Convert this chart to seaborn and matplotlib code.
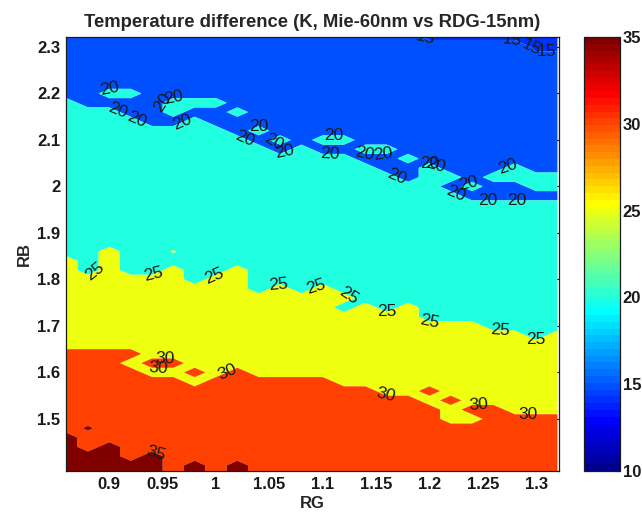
import numpy as np
import matplotlib
matplotlib.use("Agg")
import matplotlib.pyplot as plt
from matplotlib.colors import ListedColormap, Normalize
from matplotlib.cm import ScalarMappable
import seaborn as sns

# Grid axes
rg = [0.86, 0.88, 0.90, 0.92, 0.94, 0.96, 0.98, 1.00, 1.02, 1.04, 1.06, 1.08,
      1.10, 1.12, 1.14, 1.16, 1.18, 1.20, 1.22, 1.24, 1.26, 1.28, 1.30, 1.32]
rb = [2.32, 2.30, 2.28, 2.26, 2.24, 2.22, 2.20, 2.18, 2.16, 2.14, 2.12, 2.10,
      2.08, 2.06, 2.04, 2.02, 2.00, 1.98, 1.96, 1.94, 1.92, 1.90, 1.88, 1.86,
      1.84, 1.82, 1.80, 1.78, 1.76, 1.74, 1.72, 1.70, 1.68, 1.66, 1.64, 1.62,
      1.60, 1.58, 1.56, 1.54, 1.52, 1.50, 1.48, 1.46, 1.44, 1.42, 1.40, 1.38]

# Temperature difference (K); one row per RB value (top to bottom), one column per RG value
temp_diff = [
    [18, 18, 18, 18, 18, 18, 18, 18, 18, 18, 18, 18, 18, 18, 18, 18, 18, 14, 14, 14, 14, 14, 14, 14],
    [18, 18, 18, 18, 18, 18, 18, 18, 18, 18, 18, 18, 18, 18, 18, 18, 18, 18, 18, 18, 18, 18, 14, 14],
    [18, 18, 18, 18, 18, 18, 18, 18, 18, 18, 18, 18, 18, 18, 18, 18, 18, 18, 18, 18, 18, 18, 16, 16],
    [18, 18, 18, 18, 18, 18, 18, 18, 18, 18, 18, 18, 18, 18, 18, 18, 18, 18, 18, 18, 18, 18, 18, 18],
    [18, 18, 18, 18, 18, 18, 18, 18, 18, 18, 18, 18, 18, 18, 18, 18, 18, 18, 18, 18, 18, 18, 18, 18],
    [18, 18, 18, 18, 18, 18, 18, 18, 18, 18, 18, 18, 18, 18, 18, 18, 18, 18, 18, 18, 18, 18, 18, 18],
    [18, 18, 22, 22, 18, 18, 18, 18, 18, 18, 18, 18, 18, 18, 18, 18, 18, 18, 18, 18, 18, 18, 18, 18],
    [22, 18, 18, 18, 18, 22, 22, 22, 18, 18, 18, 18, 18, 18, 18, 18, 18, 18, 18, 18, 18, 18, 18, 18],
    [22, 22, 22, 18, 18, 22, 18, 18, 22, 18, 18, 18, 18, 18, 18, 18, 18, 18, 18, 18, 18, 18, 18, 18],
    [22, 22, 22, 22, 18, 18, 22, 18, 18, 18, 18, 18, 18, 18, 18, 18, 18, 18, 18, 18, 18, 18, 18, 18],
    [22, 22, 22, 22, 22, 22, 22, 22, 18, 22, 18, 18, 18, 18, 18, 18, 18, 18, 18, 18, 18, 18, 18, 18],
    [22, 22, 22, 22, 22, 22, 22, 22, 22, 18, 22, 18, 22, 22, 18, 18, 18, 18, 18, 18, 18, 18, 18, 18],
    [22, 22, 22, 22, 22, 22, 22, 22, 22, 22, 18, 22, 18, 18, 22, 22, 18, 18, 18, 18, 18, 18, 18, 18],
    [22, 22, 22, 22, 22, 22, 22, 22, 22, 22, 22, 22, 22, 22, 18, 18, 22, 18, 18, 18, 18, 18, 18, 18],
    [22, 22, 22, 22, 22, 22, 22, 22, 22, 22, 22, 22, 22, 22, 22, 18, 18, 22, 18, 18, 18, 22, 18, 18],
    [22, 22, 22, 22, 22, 22, 22, 22, 22, 22, 22, 22, 22, 22, 22, 22, 18, 22, 22, 18, 22, 22, 22, 22],
    [22, 22, 22, 22, 22, 22, 22, 22, 22, 22, 22, 22, 22, 22, 22, 22, 22, 22, 18, 22, 18, 18, 22, 22],
    [22, 22, 22, 22, 22, 22, 22, 22, 22, 22, 22, 22, 22, 22, 22, 22, 22, 22, 22, 18, 18, 18, 18, 18],
    [22, 22, 22, 22, 22, 22, 22, 22, 22, 22, 22, 22, 22, 22, 22, 22, 22, 22, 22, 22, 22, 22, 22, 22],
    [22, 22, 22, 22, 22, 22, 22, 22, 22, 22, 22, 22, 22, 22, 22, 22, 22, 22, 22, 22, 22, 22, 22, 22],
    [22, 22, 22, 22, 22, 22, 22, 22, 22, 22, 22, 22, 22, 22, 22, 22, 22, 22, 22, 22, 22, 22, 22, 22],
    [22, 22, 22, 22, 22, 22, 22, 22, 22, 22, 22, 22, 22, 22, 22, 22, 22, 22, 22, 22, 22, 22, 22, 22],
    [22, 22, 22, 22, 22, 22, 22, 22, 22, 22, 22, 22, 22, 22, 22, 22, 22, 22, 22, 22, 22, 22, 22, 22],
    [22, 22, 28, 22, 22, 25.5, 22, 22, 22, 22, 22, 22, 22, 22, 22, 22, 22, 22, 22, 22, 22, 22, 22, 22],
    [28, 22, 28, 22, 22, 22, 22, 22, 22, 22, 22, 22, 22, 22, 22, 22, 22, 22, 22, 22, 22, 22, 22, 22],
    [28, 22, 28, 22, 22, 28, 22, 22, 28, 22, 22, 22, 22, 22, 22, 22, 22, 22, 22, 22, 22, 22, 22, 22],
    [28, 28, 28, 28, 28, 28, 22, 28, 28, 22, 22, 22, 22, 22, 22, 22, 22, 22, 22, 22, 22, 22, 22, 22],
    [28, 28, 28, 28, 28, 28, 28, 28, 28, 22, 28, 22, 28, 22, 22, 22, 22, 22, 22, 22, 22, 22, 22, 22],
    [28, 28, 28, 28, 28, 28, 28, 28, 28, 28, 28, 28, 28, 28, 22, 22, 22, 22, 22, 22, 22, 22, 22, 22],
    [28, 28, 28, 28, 28, 28, 28, 28, 28, 28, 28, 28, 28, 22, 28, 22, 28, 22, 22, 22, 22, 22, 22, 22],
    [28, 28, 28, 28, 28, 28, 28, 28, 28, 28, 28, 28, 28, 28, 28, 28, 28, 22, 22, 22, 22, 22, 22, 22],
    [28, 28, 28, 28, 28, 28, 28, 28, 28, 28, 28, 28, 28, 28, 28, 28, 28, 28, 28, 28, 22, 22, 22, 22],
    [28, 28, 28, 28, 28, 28, 28, 28, 28, 28, 28, 28, 28, 28, 28, 28, 28, 28, 28, 28, 28, 28, 22, 28],
    [28, 28, 28, 28, 28, 28, 28, 28, 28, 28, 28, 28, 28, 28, 28, 28, 28, 28, 28, 28, 28, 28, 28, 28],
    [32, 32, 32, 32, 28, 28, 28, 28, 28, 28, 28, 28, 28, 28, 28, 28, 28, 28, 28, 28, 28, 28, 28, 28],
    [32, 32, 32, 28, 32, 32, 28, 28, 28, 28, 28, 28, 28, 28, 28, 28, 28, 28, 28, 28, 28, 28, 28, 28],
    [32, 32, 32, 32, 28, 28, 32, 28, 32, 28, 28, 28, 28, 28, 28, 28, 28, 28, 28, 28, 28, 28, 28, 28],
    [32, 32, 32, 32, 32, 32, 28, 32, 32, 32, 32, 32, 32, 28, 28, 28, 28, 28, 28, 28, 28, 28, 28, 28],
    [32, 32, 32, 32, 32, 32, 32, 32, 32, 32, 32, 32, 32, 32, 32, 28, 28, 32, 28, 28, 28, 28, 28, 28],
    [32, 32, 32, 32, 32, 32, 32, 32, 32, 32, 32, 32, 32, 32, 32, 32, 32, 28, 32, 28, 28, 28, 28, 28],
    [32, 32, 32, 32, 32, 32, 32, 32, 32, 32, 32, 32, 32, 32, 32, 32, 32, 32, 28, 32, 32, 28, 28, 28],
    [32, 32, 32, 32, 32, 32, 32, 32, 32, 32, 32, 32, 32, 32, 32, 32, 32, 32, 28, 28, 32, 32, 32, 32],
    [32, 36, 32, 32, 32, 32, 32, 32, 32, 32, 32, 32, 32, 32, 32, 32, 32, 32, 32, 32, 32, 32, 32, 32],
    [38, 32, 32, 32, 32, 32, 32, 32, 32, 32, 32, 32, 32, 32, 32, 32, 32, 32, 32, 32, 32, 32, 32, 32],
    [38, 32, 38, 32, 32, 32, 32, 32, 32, 32, 32, 32, 32, 32, 32, 32, 32, 32, 32, 32, 32, 32, 32, 32],
    [38, 38, 38, 32, 38, 32, 32, 32, 32, 32, 32, 32, 32, 32, 32, 32, 32, 32, 32, 32, 32, 32, 32, 32],
    [38, 38, 38, 38, 38, 32, 38, 32, 38, 32, 32, 32, 32, 32, 32, 32, 32, 32, 32, 32, 32, 32, 32, 32],
    [38, 38, 38, 38, 38, 32, 38, 32, 38, 32, 32, 32, 32, 32, 32, 32, 32, 32, 32, 32, 32, 32, 32, 32],
]

contour_levels = [15, 20, 25, 30, 35]
cbar_ticks = [10, 15, 20, 25, 30, 35]
x_ticks = [0.9, 0.95, 1.0, 1.05, 1.1, 1.15, 1.2, 1.25, 1.3]
x_tick_labels = ["0.9", "0.95", "1", "1.05", "1.1", "1.15", "1.2", "1.25", "1.3"]
y_ticks = [1.5, 1.6, 1.7, 1.8, 1.9, 2.0, 2.1, 2.2, 2.3]
y_tick_labels = ["1.5", "1.6", "1.7", "1.8", "1.9", "2", "2.1", "2.2", "2.3"]

# Points near which the contour value labels are placed (RG, RB)
label_spots = [
    (0.900, 2.235), (0.960, 2.222), (0.907, 2.160), (0.926, 2.143), (0.949, 2.186),
    (0.969, 2.132), (1.042, 2.147), (1.027, 2.104), (1.053, 2.089), (1.066, 2.063),
    (1.110, 2.106), (1.107, 2.063), (1.138, 2.063), (1.157, 2.074), (1.172, 2.035),
    (1.202, 2.089), (1.210, 2.068), (1.235, 2.014), (1.226, 1.992), (1.255, 1.986),
    (1.274, 2.040), (1.282, 1.967),
    (0.887, 1.816), (0.943, 1.805), (1.002, 1.788), (1.057, 1.795), (1.095, 1.777),
    (1.126, 1.773), (1.160, 1.713), (1.200, 1.685), (1.266, 1.681), (1.297, 1.642),
    (0.952, 1.628), (0.946, 1.608), (1.010, 1.605), (1.156, 1.537), (1.246, 1.522),
    (1.292, 1.515),
    (0.948, 1.450),
    (1.194, 2.309), (1.277, 2.304), (1.301, 2.315), (1.310, 2.268),
]


def matlab_jet(m=64):
    n = int(np.ceil(m / 4))
    u = np.concatenate([np.arange(1, n + 1) / n, np.ones(n - 1), np.arange(n, 0, -1) / n])
    g = int(np.ceil(n / 2)) - (1 if m % 4 == 1 else 0) + np.arange(1, len(u) + 1)
    r = g + n
    b = g - n
    J = np.zeros((m, 3))
    J[r[r <= m] - 1, 0] = u[r <= m]
    J[g[g <= m] - 1, 1] = u[g <= m]
    J[b[b >= 1] - 1, 2] = u[b >= 1]
    return J


sns.set_theme(style="white")
plt.rcParams["font.family"] = ["Liberation Sans", "DejaVu Sans"]
plt.rcParams["axes.linewidth"] = 0.9

jet = matlab_jet(64)
clim = (10, 35)


def band_colour(v):
    idx = int(np.floor((v - clim[0]) / (clim[1] - clim[0]) * 64))
    return jet[min(max(idx, 0), 63)]


Z = np.array(temp_diff, dtype=float)[::-1]
RB = np.array(rb)[::-1]
RG = np.array(rg)

fill_levels = [10] + contour_levels + [40]
fill_colours = [band_colour(14)] + [band_colour(v) for v in contour_levels]

fig = plt.figure(figsize=(6.42, 5.13), dpi=100)
fig.patch.set_facecolor("white")
ax = fig.add_axes([0.1028, 0.0819, 0.768, 0.846])

ax.contourf(RG, RB, Z, levels=fill_levels, colors=fill_colours, antialiased=True)
lines = ax.contour(RG, RB, Z, levels=contour_levels, colors="k", linewidths=0)
ax.clabel(lines, levels=contour_levels, manual=label_spots, inline=False,
          fontsize=12.5, colors="k", fmt="%d")

ax.set_xlim(0.8594, 1.3215)
ax.set_ylim(1.388, 2.3215)
ax.set_xticks(x_ticks)
ax.set_xticklabels(x_tick_labels)
ax.set_yticks(y_ticks)
ax.set_yticklabels(y_tick_labels)
ax.tick_params(direction="in", top=True, right=True, length=4, width=0.8,
               labelsize=12, pad=4, colors="k")
for lab in ax.get_xticklabels() + ax.get_yticklabels():
    lab.set_fontweight("bold")
for sp in ax.spines.values():
    sp.set_color("k")
    sp.set_visible(True)

ax.set_xlabel("RG", fontsize=12, fontweight="bold", labelpad=3)
ax.set_ylabel("RB", fontsize=12, fontweight="bold", labelpad=4)
ax.set_title("Temperature difference (K, Mie-60nm vs RDG-15nm)",
             fontsize=13.3, fontweight="bold", pad=7)

cax = fig.add_axes([0.9097, 0.0819, 0.0561, 0.846])
sm = ScalarMappable(norm=Normalize(*clim), cmap=ListedColormap(jet))
cb = fig.colorbar(sm, cax=cax, ticks=cbar_ticks)
cb.outline.set_edgecolor("k")
cb.outline.set_linewidth(0.9)
cax.tick_params(direction="in", left=True, right=True, length=3, width=0.8,
                labelsize=12, pad=2, colors="k")
for lab in cax.get_yticklabels():
    lab.set_fontweight("bold")

fig.savefig("out.png", dpi=100)
